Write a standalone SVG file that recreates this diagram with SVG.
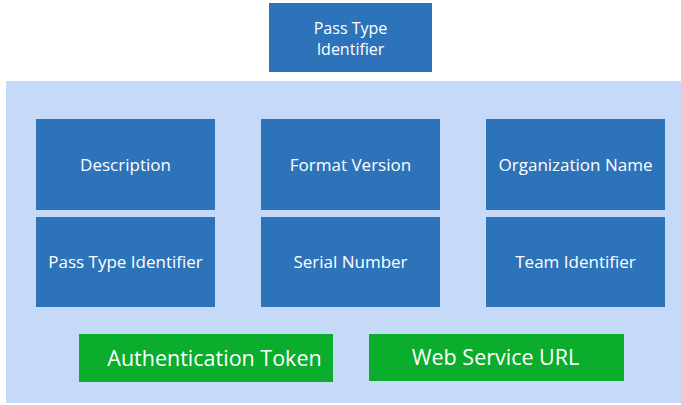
<svg xmlns="http://www.w3.org/2000/svg" width="681" height="405" viewBox="0 0 681 405">
<style>
.b{fill:#2d73ba}
.g{fill:#0aad2c}
.t{font-family:"Open Sans","Liberation Sans",sans-serif;font-size:17px;fill:#fff;text-anchor:middle;dominant-baseline:central}
.tt{font-family:"Open Sans","Liberation Sans",sans-serif;font-size:16px;fill:#fff;text-anchor:middle}
.tg{font-family:"Open Sans","Liberation Sans",sans-serif;font-size:21.5px;fill:#fff;text-anchor:middle;dominant-baseline:central}
</style>
<rect x="0" y="0" width="681" height="405" fill="#fff"/>
<g id="top">
<rect class="b" x="269" y="3" width="163" height="69"/>
<text class="tt" x="350.5" y="34">Pass Type</text>
<text class="tt" x="350.5" y="55">Identifier</text>
</g>
<g id="panel"><rect x="6" y="81" width="675" height="322" fill="#c5daf8"/></g>
<g id="description"><rect class="b" x="36" y="119" width="179" height="91"/><text class="t" x="125.5" y="164">Description</text></g>
<g id="format"><rect class="b" x="261" y="119" width="179" height="91"/><text class="t" x="350.5" y="164">Format Version</text></g>
<g id="org"><rect class="b" x="486" y="119" width="179" height="91"/><text class="t" x="575.5" y="164">Organization Name</text></g>
<g id="passtype"><rect class="b" x="36" y="217" width="179" height="90"/><text class="t" x="125.5" y="261.5">Pass Type Identifier</text></g>
<g id="serial"><rect class="b" x="261" y="217" width="179" height="90"/><text class="t" x="350.5" y="261.5">Serial Number</text></g>
<g id="team"><rect class="b" x="486" y="217" width="179" height="90"/><text class="t" x="575.5" y="261.5">Team Identifier</text></g>
<g id="auth"><rect class="g" x="79" y="334" width="254" height="48"/><text class="tg" x="214.5" y="357.5">Authentication Token</text></g>
<g id="web"><rect class="g" x="369" y="334" width="255" height="47"/><text class="tg" x="495.5" y="356.5">Web Service URL</text></g>
<g id="connectors"></g>
</svg>
